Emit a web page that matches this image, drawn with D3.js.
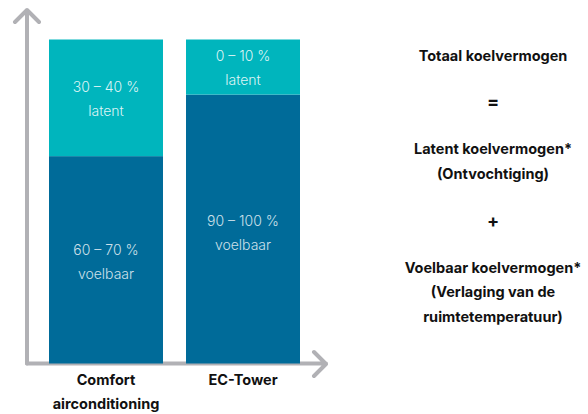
<!DOCTYPE html>
<html><head><meta charset="utf-8">
<script src="https://cdn.jsdelivr.net/npm/d3@7"></script>
<style>body{margin:0;background:#fff}svg{display:block}</style>
</head><body>
<svg id="c" width="588" height="414"></svg>
<script>
const categories = [["Comfort","airconditioning"], ["EC-Tower"]];
const latentValues = [36, 17];
const sensibleValues = [64, 83];
const latentLabels = ["30 – 40 %", "0 – 10 %"];
const sensibleLabels = ["60 – 70 %", "90 – 100 %"];
const sideLines = ["Totaal koelvermogen", "=", "Latent koelvermogen*", "(Ontvochtiging)", "+", "Voelbaar koelvermogen*", "(Verlaging van de", "ruimtetemperatuur)"];
const sideY = [56, 102, 149, 174, 221, 268, 292, 317];

const svg = d3.select("#c");
const font = "Inter, 'Liberation Sans', sans-serif";
const x = d3.scaleBand().domain([0,1]).range([49, 300]).paddingInner(0.168).paddingOuter(0);
const y = d3.scaleLinear().domain([0, 100]).range([363.5, 39.5]);
const teal = "#00b5bd", blue = "#006b99", grey = "#b1b1b5";

// axes
const ax = svg.append("g").attr("stroke", grey).attr("stroke-width", 4).attr("fill", "none")
  .attr("stroke-linecap", "round").attr("stroke-linejoin", "round");
ax.append("path").attr("d", `M27,${y(0)}V10M15,22L27,10L39,22`);
ax.append("path").attr("d", `M27,${y(0)}H326M314,352L326,364L314,376`);

const idx = [0,1];
// sensible (bottom)
svg.selectAll(".s").data(idx).join("rect")
  .attr("x", i => x(i)).attr("width", x.bandwidth())
  .attr("y", i => y(sensibleValues[i])).attr("height", i => y(0) - y(sensibleValues[i]))
  .attr("fill", blue);
svg.selectAll(".l").data(idx).join("rect")
  .attr("x", i => x(i)).attr("width", x.bandwidth())
  .attr("y", i => y(sensibleValues[i] + latentValues[i]))
  .attr("height", i => y(sensibleValues[i]) - y(sensibleValues[i] + latentValues[i]))
  .attr("fill", teal);

const cx = i => x(i) + x.bandwidth() / 2;
const tg = svg.append("g").attr("text-anchor", "middle").attr("font-family", font)
  .attr("font-size", 14).attr("font-weight", 300);
idx.forEach(i => {
  const top = y(sensibleValues[i] + latentValues[i]), mid = y(sensibleValues[i]);
  const ly = (top + mid) / 2;
  tg.append("text").attr("x", cx(i)).attr("y", ly - 6).attr("fill", "#dcf4f5").text(latentLabels[i]);
  tg.append("text").attr("x", cx(i)).attr("y", ly + 18).attr("fill", "#dcf4f5").text("latent");
  const sy = i === 0 ? (mid + y(0)) / 2 - 5 : mid + 131;
  tg.append("text").attr("x", cx(i)).attr("y", sy).attr("fill", "#cde0ea").text(sensibleLabels[i]);
  tg.append("text").attr("x", cx(i)).attr("y", sy + 24).attr("fill", "#cde0ea").text("voelbaar");
});

// category labels
const cg = svg.append("g").attr("text-anchor", "middle").attr("font-family", font)
  .attr("font-size", 14.5).attr("font-weight", 700).attr("fill", "#111");
categories.forEach((lines, i) => lines.forEach((t, j) =>
  cg.append("text").attr("x", cx(i)).attr("y", 385 + j * 24).text(t)));

// side text
const sg = svg.append("g").attr("text-anchor", "middle").attr("font-family", font)
  .attr("font-weight", 700).attr("fill", "#111");
sideLines.forEach((t, k) => {
  const sym = t === "=" || t === "+";
  sg.append("text").attr("x", 493).attr("y", sideY[k] + (sym ? 6 : 5))
    .attr("font-size", sym ? 18 : 14.5).text(t);
});
</script>
</body></html>
